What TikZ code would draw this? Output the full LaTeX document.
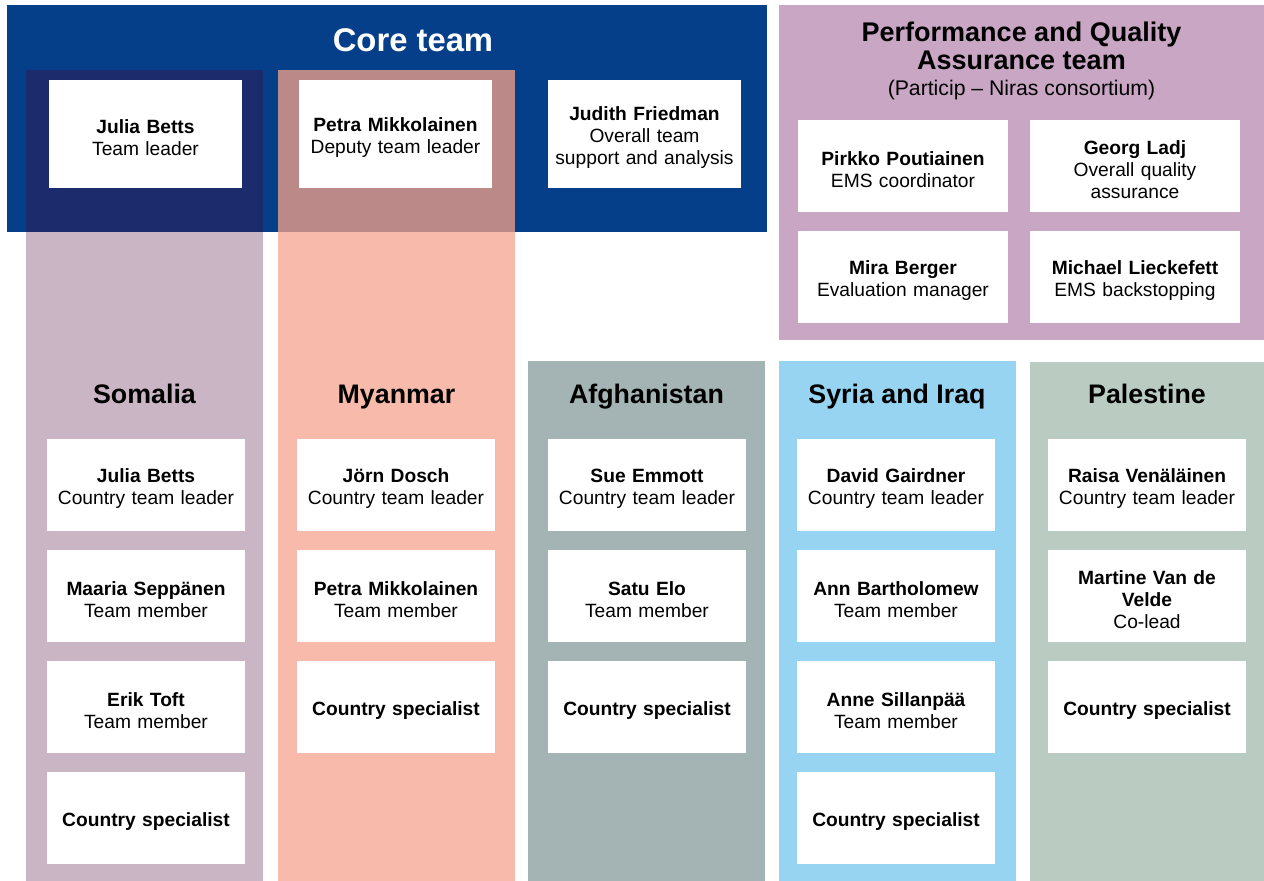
\documentclass[tikz,border=0pt]{standalone}
\usepackage{fontspec}
\setmainfont{Liberation Sans}
\usepackage{tikz}
\usetikzlibrary{positioning,calc}
\pgfdeclarelayer{background}
\pgfsetlayers{background,main}
\definecolor{coreblue}{HTML}{053F8A}
\definecolor{qapurple}{HTML}{C8A6C4}
\definecolor{somcol}{HTML}{C9B5C3}
\definecolor{somdark}{HTML}{1B2B6B}
\definecolor{myacol}{HTML}{F8BAAA}
\definecolor{myadark}{HTML}{BA8988}
\definecolor{afgcol}{HTML}{A4B4B4}
\definecolor{syrcol}{HTML}{97D4F2}
\definecolor{palcol}{HTML}{BACCC1}
\newcommand{\bodyfont}{\fontsize{9.6}{11}\selectfont}
\tikzstyle{member}=[fill=white, text centered, inner sep=0pt, font=\bodyfont]
\tikzstyle{corebox}=[member, text width=92pt, minimum width=96.5pt,
  minimum height=54pt]
\tikzstyle{qabox}=[member, text width=101pt, minimum width=105pt,
  minimum height=46pt]
\tikzstyle{colbox}=[member, text width=95pt, minimum width=99pt,
  minimum height=46pt]
\tikzstyle{areatitle}=[anchor=base, inner sep=0pt,
  font=\fontsize{13.4}{16}\selectfont\bfseries]
\newcommand{\member}[4]{node (#1) [#2]
  {{\bfseries\rule{0pt}{10.6pt}#3}\\#4}}
\newcommand{\specialist}[1]{node (#1) [colbox]
  {\bfseries\rule{0pt}{10.6pt}Country specialist}}
\newcommand{\teamarea}[3]{%
  \begin{pgfonlayer}{background}
    \path[fill=#1] (#2) rectangle (#3);
  \end{pgfonlayer}}

\begin{document}
\begin{tikzpicture}[x=0.5pt,y=-0.5pt]
  \useasboundingbox (0,0) rectangle (1264,881);

  % coloured team areas
  \teamarea{coreblue}{7,5}{767,232}
  \teamarea{qapurple}{779,5}{1264,340}
  \teamarea{somcol}{26,70}{263,881}
  \teamarea{somdark}{26,70}{263,232}
  \teamarea{myacol}{278,70}{515,881}
  \teamarea{myadark}{278,70}{515,232}
  \teamarea{afgcol}{528,361}{765,881}
  \teamarea{syrcol}{779,361}{1016,881}
  \teamarea{palcol}{1030,362}{1264,881}

  % core team
  \path (413,52) node (CORETITLE) [areatitle, text=white,
    font=\fontsize{16.4}{19}\selectfont\bfseries] {Core team};
  \path (145.5,134) \member {TEAMLEAD}{corebox}{Julia Betts}{Team leader};
  \path (TEAMLEAD.center)+(250,0) \member {DEPUTY}{corebox}{Petra Mikkolainen}{Deputy team leader};
  \path (DEPUTY.center)+(249,0) \member {SUPPORT}{corebox}{Judith Friedman}{Overall team\\support and analysis};

  % performance and quality assurance team
  \path (1021.5,42) node (QATITLE) [areatitle,
    font=\fontsize{13.5}{14}\selectfont\bfseries] {Performance and Quality};
  \path (1021.5,70) node (QATITLEB) [areatitle,
    font=\fontsize{13.5}{14}\selectfont\bfseries] {Assurance team};
  \path (1021.5,96) node (QASUB) [areatitle,
    font=\fontsize{10.6}{12}\selectfont] {(Particip -- Niras consortium)};
  \path (903,166) \member {EMSCOORD}{qabox}{Pirkko Poutiainen}{EMS coordinator};
  \path (EMSCOORD.center)+(232,0) \member {QUALITY}{qabox}{Georg Ladj}{Overall quality\\assurance};
  \path (EMSCOORD.center)+(0,111) \member {EVALMAN}{qabox}{Mira Berger}{Evaluation manager};
  \path (EVALMAN.center)+(232,0) \member {BACKSTOP}{qabox}{Michael Lieckefett}{EMS backstopping};

  % Somalia
  \path (144.5,404) node (SOMTITLE) [areatitle] {Somalia};
  \path (146,485) \member {SOMLEAD}{colbox}{Julia Betts}{Country team leader};
  \path (SOMLEAD.center)+(0,111) \member {SOMMEMA}{colbox}{Maaria Sepp\"anen}{Team member};
  \path (SOMMEMA.center)+(0,111) \member {SOMMEMB}{colbox}{Erik Toft}{Team member};
  \path (SOMMEMB.center)+(0,111) \specialist {SOMSPEC};

  % Myanmar
  \path (396.5,404) node (MYATITLE) [areatitle] {Myanmar};
  \path (396,485) \member {MYALEAD}{colbox}{J\"orn Dosch}{Country team leader};
  \path (MYALEAD.center)+(0,111) \member {MYAMEM}{colbox}{Petra Mikkolainen}{Team member};
  \path (MYAMEM.center)+(0,111) \specialist {MYASPEC};

  % Afghanistan
  \path (646.5,404) node (AFGTITLE) [areatitle] {Afghanistan};
  \path (647,485) \member {AFGLEAD}{colbox}{Sue Emmott}{Country team leader};
  \path (AFGLEAD.center)+(0,111) \member {AFGMEM}{colbox}{Satu Elo}{Team member};
  \path (AFGMEM.center)+(0,111) \specialist {AFGSPEC};

  % Syria and Iraq
  \path (897,404) node (SYRTITLE) [areatitle] {Syria and Iraq};
  \path (896,485) \member {SYRLEAD}{colbox}{David Gairdner}{Country team leader};
  \path (SYRLEAD.center)+(0,111) \member {SYRMEMA}{colbox}{Ann Bartholomew}{Team member};
  \path (SYRMEMA.center)+(0,111) \member {SYRMEMB}{colbox}{Anne Sillanp\"a\"a}{Team member};
  \path (SYRMEMB.center)+(0,111) \specialist {SYRSPEC};

  % Palestine
  \path (1147,404) node (PALTITLE) [areatitle] {Palestine};
  \path (1147,485) \member {PALLEAD}{colbox}{Raisa Ven\"al\"ainen}{Country team leader};
  \path (PALLEAD.center)+(0,111) \member {PALCOLEAD}{colbox}{Martine Van de\\Velde}{Co-lead};
  \path (PALCOLEAD.center)+(0,111) \specialist {PALSPEC};

\end{tikzpicture}
\end{document}
